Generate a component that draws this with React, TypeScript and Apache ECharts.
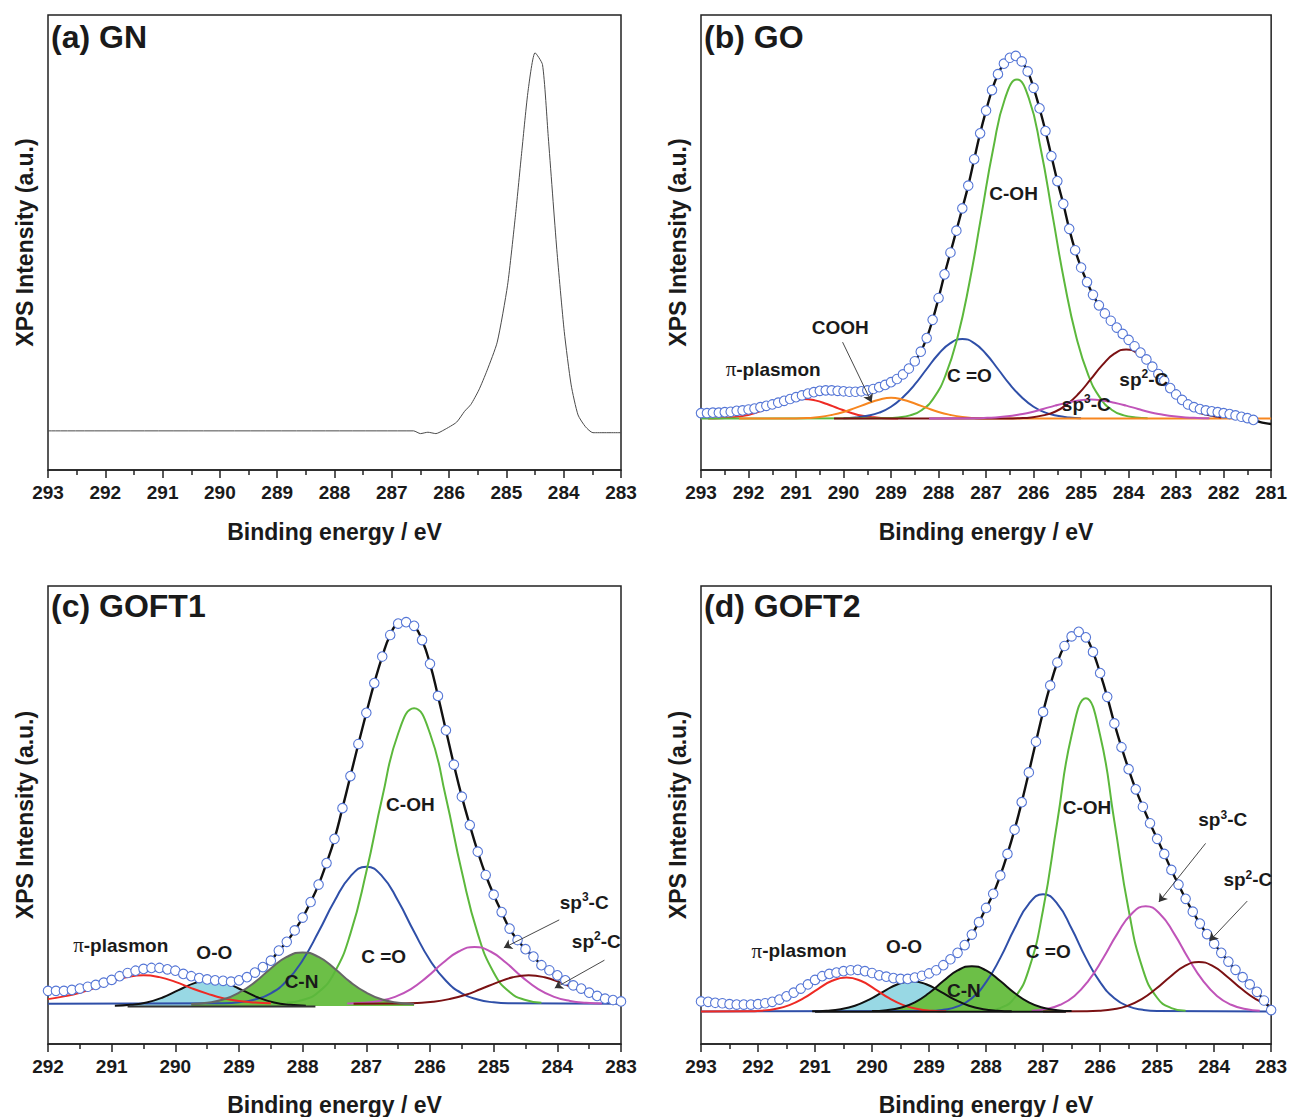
import React, { useEffect, useRef } from "react";
import * as echarts from "echarts";

const FONT = "'Liberation Sans', Arial, Helvetica, sans-serif";
const SERIF = "'Liberation Serif', 'DejaVu Serif', serif";

// ---------- (a) GN ----------
const GN_ENERGY = [293, 286.62, 286.5, 286.37, 286.23, 286.09, 285.87, 285.73, 285.62, 285.48, 285.34, 285.16, 284.98, 284.84, 284.73, 284.62, 284.5, 284.37, 284.27, 284.12, 283.99, 283.87, 283.75, 283.62, 283.49, 283.0];
const GN_INTENSITY = [8.6, 8.6, 8.0, 8.3, 8.0, 8.8, 10.5, 12.9, 14.4, 17.6, 21.8, 28.1, 40.6, 56.2, 70.2, 83.5, 91.7, 89.1, 73.3, 48.4, 30.4, 18.7, 12.1, 9.5, 8.2, 8.2];

// sampling grids
const ENV_STEP = 0.125;
const COMP_STEP = 0.25;

// ---------- (b) GO ----------
const GO_BASE = 11.3;
const GO_ENV_START = 293;
const GO_ENV = [
  12.5, 12.5, 12.6, 12.6, 12.7, 12.8, 13.0, 13.1, 13.3, 13.5, 13.8, 14.1, 14.4, 14.8, 15.2, 15.6,
  16.0, 16.4, 16.8, 17.1, 17.4, 17.5, 17.5, 17.4, 17.3, 17.2, 17.2, 17.3, 17.5, 17.8, 18.2, 18.7,
  19.3, 20.0, 21.0, 22.3, 23.9, 26.0, 29.0, 33.0, 37.8, 43.0, 47.8, 52.6, 57.5, 62.5, 68.3, 74.0,
  79.0, 83.5, 87.0, 89.3, 90.6, 91.0, 89.8, 87.6, 84.0, 79.5, 74.5, 69.0, 63.5, 58.5, 53.0, 48.3,
  44.5, 41.3, 38.5, 36.2, 34.4, 32.8, 31.3, 29.9, 28.6, 27.2, 25.8, 24.3, 22.7, 21.1, 19.6, 18.0,
  16.6, 15.4, 14.4, 13.8, 13.4, 13.1, 12.9, 12.7, 12.5, 12.3, 12.0, 11.7, 11.4, 11.0,
];
const GO_FIT_TAIL_ENERGY = [281.25, 281.125, 281.0];
const GO_FIT_TAIL = [10.6, 10.3, 10.1];
const GO_PLASMON = { x0: 292.85, y: [11.33, 11.4, 11.6, 11.9, 12.6, 13.5, 14.5, 15.3, 15.6, 15.3, 14.5, 13.5, 12.6, 11.9, 11.6, 11.4, 11.33] };
const GO_COOH = { x0: 291.0, y: [11.33, 11.42, 11.65, 12.1, 12.75, 13.65, 14.6, 15.45, 15.9, 15.45, 14.6, 13.65, 12.75, 12.1, 11.65, 11.42, 11.33] };
const GO_CO = { x0: 290.0, y: [11.4, 11.55, 11.9, 12.6, 13.9, 16.0, 18.8, 22.2, 25.5, 27.9, 28.8, 27.9, 25.5, 22.2, 18.8, 16.0, 13.9, 12.6, 11.9, 11.55, 11.4] };
const GO_COH = { x0: 289.1, y: [11.4, 11.55, 12.0, 13.2, 15.85, 20.9, 29.2, 41.2, 55.9, 70.6, 81.7, 85.8, 81.7, 70.6, 55.9, 41.2, 29.2, 20.9, 15.85, 13.2, 12.0, 11.55, 11.4] };
const GO_SP3 = { x0: 287.3, y: [11.35, 11.43, 11.56, 11.8, 12.2, 12.7, 13.4, 14.15, 14.8, 15.3, 15.5, 15.3, 14.8, 14.15, 13.4, 12.7, 12.2, 11.8, 11.56, 11.43, 11.35] };
const GO_SP2 = { x0: 286.55, y: [11.33, 11.39, 11.56, 12.0, 12.8, 14.4, 16.8, 19.9, 23.1, 25.56, 26.5, 25.56, 23.1, 19.9, 16.8, 14.4, 12.8, 12.0, 11.56] };

// ---------- (c) GOFT1 ----------
const C_BASE = 8.8;
const C_FILL_BASE = 8.3;
const C_ENV_START = 292;
const C_ENV = [
  11.6, 11.6, 11.6, 11.8, 12.1, 12.5, 12.9, 13.4, 14.0, 14.8, 15.5, 16.0, 16.4, 16.6, 16.6, 16.3,
  16.0, 15.3, 14.8, 14.4, 14.1, 13.9, 13.8, 13.6, 13.9, 14.6, 15.6, 16.8, 18.2, 20.4, 22.3, 24.8,
  27.6, 31.0, 34.8, 39.5, 44.8, 51.5, 58.5, 65.5, 72.3, 78.8, 84.6, 89.3, 91.8, 92.1, 91.3, 88.2,
  83.0, 76.0, 68.5, 61.0, 54.0, 47.8, 42.0, 36.9, 32.6, 28.8, 25.2, 22.7, 20.7, 19.1, 17.2, 16.1,
  15.0, 13.9, 12.8, 12.1, 11.2, 10.5, 9.9, 9.6, 9.3,
];
const C_PLASMON = { x0: 292.0, y: [9.8, 10.4, 11.2, 12.3, 13.6, 14.6, 15.0, 14.6, 13.57, 12.2, 11.0, 10.0, 9.4, 9.05, 8.9] };
const C_OO = { x0: 290.95, y: [8.36, 8.55, 9.07, 10.15, 11.76, 13.3, 14.0, 13.3, 11.76, 10.15, 9.07, 8.55, 8.36] };
const C_CN = { x0: 289.75, y: [8.72, 9.0, 9.7, 11.2, 13.5, 16.5, 19.0, 20.0, 19.0, 16.5, 13.5, 11.2, 9.7, 9.0, 8.72] };
const C_CO = { x0: 289.25, y: [8.9, 9.1, 9.7, 11.06, 13.8, 18.3, 24.5, 31.2, 36.6, 38.7, 36.6, 31.2, 24.5, 18.3, 13.8, 11.06, 9.7, 9.1, 8.9] };
const C_COH = { x0: 288.25, y: [9.0, 9.6, 11.35, 15.6, 24.1, 37.6, 53.8, 67.8, 73.3, 67.8, 53.8, 37.6, 24.1, 15.6, 11.35, 9.6, 9.0] };
const C_SP3 = { x0: 287.3, y: [8.86, 9.0, 9.4, 10.3, 12.0, 14.6, 17.67, 20.2, 21.2, 20.2, 17.67, 14.6, 12.0, 10.3, 9.4, 9.0, 8.86] };
const C_SP2 = { x0: 286.45, y: [8.86, 8.97, 9.23, 9.8, 10.7, 12.0, 13.4, 14.56, 15.0, 14.56, 13.4, 12.0, 10.7, 9.8, 9.23] };
const C_BASELINE_ENERGY = [290.75, 287.8];
const C_BASELINE = [8.2, 8.2];

// ---------- (d) GOFT2 ----------
const D_BASE = 7.1;
const D_ENV_START = 293;
const D_ENV = [
  9.3, 9.2, 9.0, 8.9, 8.7, 8.6, 8.6, 8.6, 8.7, 8.9, 9.2, 9.7, 10.4, 11.2, 12.1, 13.0,
  14.0, 14.8, 15.3, 15.6, 15.9, 16.1, 16.2, 15.9, 15.5, 15.0, 14.7, 14.4, 14.2, 14.2, 14.5, 14.9,
  15.4, 16.1, 17.2, 18.5, 19.9, 21.6, 23.9, 26.6, 29.7, 32.8, 36.8, 41.5, 46.8, 52.8, 59.3, 66.0,
  72.5, 78.3, 83.3, 86.9, 89.0, 90.0, 88.8, 85.6, 81.0, 75.8, 70.0, 64.8, 60.0, 55.6, 51.8, 48.2,
  44.8, 41.5, 38.0, 34.8, 31.7, 28.9, 26.3, 24.0, 21.9, 19.9, 18.0, 16.2, 14.6, 13.0, 11.4, 9.5,
  7.4,
];
const D_PLASMON = { x0: 292.2, y: [7.15, 7.28, 7.66, 8.5, 10.0, 12.0, 13.8, 14.5, 13.8, 12.0, 10.0, 8.5, 7.66, 7.28, 7.15] };
const D_OO = { x0: 291.05, y: [7.14, 7.26, 7.6, 8.36, 9.7, 11.46, 13.05, 13.7, 13.05, 11.46, 9.7, 8.36, 7.6, 7.26, 7.14] };
const D_CN = { x0: 290.0, y: [7.18, 7.37, 7.92, 9.1, 11.14, 13.74, 16.06, 17.0, 16.06, 13.74, 11.14, 9.1, 7.92, 7.37, 7.18] };
const D_CO = { x0: 289.0, y: [7.2, 7.47, 8.2, 10.0, 13.5, 18.8, 25.2, 30.6, 32.7, 30.6, 25.2, 18.8, 13.5, 10.0, 8.2, 7.47, 7.2] };
const D_COH = { x0: 288.0, y: [7.25, 7.85, 10.1, 16.3, 29.3, 48.6, 67.4, 75.5, 67.4, 48.6, 29.3, 16.3, 10.1, 7.85, 7.25] };
const D_SP3 = { x0: 287.2, y: [7.27, 7.65, 8.57, 10.5, 13.9, 18.67, 24.05, 28.4, 30.1, 28.4, 24.05, 18.67, 13.9, 10.5, 8.57, 7.65, 7.27] };
const D_SP2 = { x0: 286.27, y: [7.14, 7.25, 7.58, 8.33, 9.8, 12.05, 14.7, 17.0, 17.9, 17.0, 14.7, 12.05, 9.8, 8.33, 7.58] };
const D_BASELINE_ENERGY = [291.0, 286.6];
const D_BASELINE = [7.05, 7.05];

// ---------- annotations (data coordinates) ----------
const ANN_B = [
  { e: 286.41, v: 60.7, t: "{b|C-OH}" },
  { e: 287.34, v: 20.7, t: "{b|C =O}" },
  { e: 290.06, v: 31.2, t: "{b|COOH}" },
  { e: 291.47, v: 22.0, t: "{pi|π}{b|-plasmon}" },
  { e: 283.67, v: 19.8, t: "{b|sp}{sup|2}{b|-C}" },
  { e: 284.88, v: 14.3, t: "{b|sp}{sup|3}{b|-C}" },
];
const ARROWS_B = [[290.02, 28.1, 289.41, 14.9]];
const ANN_C = [
  { e: 290.85, v: 21.4, t: "{pi|π}{b|-plasmon}" },
  { e: 289.38, v: 19.9, t: "{b|O-O}" },
  { e: 288.01, v: 13.5, t: "{b|C-N}" },
  { e: 286.72, v: 19.0, t: "{b|C =O}" },
  { e: 286.3, v: 52.2, t: "{b|C-OH}" },
  { e: 283.57, v: 30.8, t: "{b|sp}{sup|3}{b|-C}" },
  { e: 283.38, v: 22.3, t: "{b|sp}{sup|2}{b|-C}" },
];
const ARROWS_C = [
  [283.97, 27.1, 284.84, 21.0],
  [283.26, 18.3, 284.04, 12.2],
];
const ANN_D = [
  { e: 291.27, v: 20.3, t: "{pi|π}{b|-plasmon}" },
  { e: 289.43, v: 21.2, t: "{b|O-O}" },
  { e: 288.38, v: 11.6, t: "{b|C-N}" },
  { e: 286.9, v: 20.1, t: "{b|C =O}" },
  { e: 286.22, v: 51.5, t: "{b|C-OH}" },
  { e: 283.84, v: 48.9, t: "{b|sp}{sup|3}{b|-C}" },
  { e: 283.4, v: 35.8, t: "{b|sp}{sup|2}{b|-C}" },
];
const ARROWS_D = [
  [284.15, 43.8, 284.97, 31.0],
  [283.42, 31.2, 284.08, 22.5],
];

// ---------- colours ----------
const COL = {
  red: "#ee2a24",
  orange: "#f7861f",
  blue: "#2f4fa8",
  green: "#5cb83c",
  magenta: "#c054b9",
  darkred: "#7b1113",
  fit: "#111111",
  circle: "#5576d6",
  ooFill: "#98d8e4",
  cnFill: "#6cbf47",
  axis: "#222222",
  text: "#1a1a1a",
};

function grid(x0: number, step: number, ys: number[]): number[][] {
  return ys.map((y, i) => [Math.round((x0 - i * step) * 1000) / 1000, y]);
}
function pairs(xs: number[], ys: number[]): number[][] {
  return xs.map((x, i) => [x, ys[i]]);
}
function comp(c: { x0: number; y: number[] }, base: number, left?: number, right?: number): number[][] {
  const d = grid(c.x0, COMP_STEP, c.y);
  if (left !== undefined) d.unshift([left, base]);
  if (right !== undefined) d.push([right, base]);
  return d;
}

function line(k: number, data: number[][], color: string, width = 2, extra: any = {}) {
  return {
    type: "line",
    xAxisIndex: k,
    yAxisIndex: k,
    data,
    smooth: 0.5,
    symbol: "none",
    silent: true,
    lineStyle: { color, width },
    ...extra,
  };
}
function area(k: number, data: number[][], stroke: string, fill: string, origin: number) {
  return line(k, data, stroke, 2, { areaStyle: { color: fill, opacity: 1, origin } });
}
function circles(k: number, data: number[][]) {
  return {
    type: "scatter",
    xAxisIndex: k,
    yAxisIndex: k,
    data,
    symbol: "circle",
    symbolSize: 9.5,
    silent: true,
    z: 4,
    itemStyle: { color: "#ffffff", borderColor: COL.circle, borderWidth: 1.1, opacity: 1 },
  };
}

const NOSTROKE = { textBorderWidth: 0, textBorderColor: "transparent", textShadowBlur: 0 };
const RICH = {
  b: { fontFamily: FONT, fontWeight: "bold", fontSize: 19, color: COL.text, lineHeight: 22, ...NOSTROKE },
  sup: { fontFamily: FONT, fontWeight: "bold", fontSize: 12, color: COL.text, verticalAlign: "top", lineHeight: 12, ...NOSTROKE },
  pi: { fontFamily: SERIF, fontSize: 21, color: COL.text, lineHeight: 22, ...NOSTROKE },
};

function annotations(k: number, labels: { e: number; v: number; t: string }[], arrows: number[][]) {
  return {
    type: "scatter",
    xAxisIndex: k,
    yAxisIndex: k,
    silent: true,
    z: 6,
    symbolSize: 1,
    itemStyle: { color: "rgba(255,255,255,0)", opacity: 1 },
    data: labels.map((l) => ({ value: [l.e, l.v], label: { formatter: l.t } })),
    label: { show: true, position: [0, 0], align: "center", verticalAlign: "middle", color: COL.text, opacity: 1, ...NOSTROKE, rich: RICH },
    markLine: arrows.length
      ? {
          silent: true,
          symbol: ["none", "arrow"],
          symbolSize: 8,
          lineStyle: { color: "#333", width: 0.9, type: "solid", opacity: 1 },
          label: { show: false },
          data: arrows.map((a) => [{ coord: [a[0], a[1]] }, { coord: [a[2], a[3]] }]),
        }
      : undefined,
  };
}

function buildOption(): any {
  const grids = [
    { left: 48, top: 15, width: 573, height: 455 },
    { left: 701, top: 15, width: 572, height: 455 },
    { left: 48, top: 586, width: 573, height: 458 },
    { left: 701, top: 586, width: 572, height: 458 },
  ].map((g) => ({ ...g, show: true, borderColor: COL.axis, borderWidth: 1.5, containLabel: false }));

  const ranges = [
    [283, 293],
    [281, 293],
    [283, 292],
    [283, 293],
  ];
  const nameGaps = [50, 50, 49, 49];
  const xAxis = ranges.map((r, k) => ({
    type: "value",
    gridIndex: k,
    inverse: true,
    min: r[0],
    max: r[1],
    interval: 1,
    axisLine: { show: true, lineStyle: { color: COL.axis, width: 1.5 } },
    axisTick: { show: true, length: 8, lineStyle: { color: COL.axis, width: 1.5 } },
    minorTick: { show: true, splitNumber: 2, length: 5, lineStyle: { color: COL.axis, width: 1.5 } },
    splitLine: { show: false },
    axisLabel: { fontFamily: FONT, fontSize: 19, fontWeight: "bold", color: COL.text, margin: 13 },
    name: "Binding energy / eV",
    nameLocation: "middle",
    nameGap: nameGaps[k],
    nameTextStyle: { fontFamily: FONT, fontSize: 23, fontWeight: "bold", color: COL.text },
  }));
  const yAxis = ranges.map((_, k) => ({
    type: "value",
    gridIndex: k,
    min: 0,
    max: 100,
    axisLine: { show: false },
    axisTick: { show: false },
    axisLabel: { show: false },
    splitLine: { show: false },
    name: "XPS Intensity (a.u.)",
    nameLocation: "middle",
    nameGap: 12,
    nameTextStyle: { fontFamily: FONT, fontSize: 23, fontWeight: "bold", color: COL.text },
  }));

  const title = [
    { text: "(a) GN", left: 51, top: 21 },
    { text: "(b) GO", left: 704, top: 21 },
    { text: "(c) GOFT1", left: 51, top: 590 },
    { text: "(d) GOFT2", left: 704, top: 590 },
  ].map((t) => ({ ...t, padding: 0, textStyle: { fontFamily: FONT, fontWeight: "bold", fontSize: 32, color: COL.text } }));

  const goEnv = grid(GO_ENV_START, ENV_STEP, GO_ENV);
  const cEnv = grid(C_ENV_START, ENV_STEP, C_ENV);
  const dEnv = grid(D_ENV_START, ENV_STEP, D_ENV);

  const series: any[] = [
    // (a)
    line(0, pairs(GN_ENERGY, GN_INTENSITY), "#4a4a4a", 1, { smooth: 0.2 }),

    // (b)
    line(1, comp(GO_PLASMON, GO_BASE), COL.red),
    line(1, comp(GO_CO, GO_BASE), COL.blue),
    line(1, comp(GO_COH, GO_BASE, 293), COL.green),
    line(1, comp(GO_COOH, GO_BASE, 292.2, 281), COL.orange),
    line(1, comp(GO_SP2, GO_BASE, 290.2), COL.darkred),
    line(1, comp(GO_SP3, GO_BASE, 288.2), COL.magenta),
    line(1, goEnv.concat(pairs(GO_FIT_TAIL_ENERGY, GO_FIT_TAIL)), COL.fit, 2.4),
    circles(1, goEnv),
    annotations(1, ANN_B, ARROWS_B),

    // (c)
    line(2, comp(C_CO, C_BASE, 292, 283), COL.blue),
    line(2, comp(C_COH, C_BASE), COL.green),
    line(2, comp(C_SP3, C_BASE), COL.magenta),
    line(2, comp(C_SP2, C_BASE, 287.2), COL.darkred),
    area(2, comp(C_OO, C_BASE), "#111", COL.ooFill, C_FILL_BASE),
    line(2, comp(C_PLASMON, C_BASE), COL.red),
    area(2, comp(C_CN, C_BASE), "#666", COL.cnFill, C_FILL_BASE),
    line(2, pairs(C_BASELINE_ENERGY, C_BASELINE), "#333", 2, { smooth: false }),
    line(2, cEnv, COL.fit, 2.4),
    circles(2, cEnv),
    annotations(2, ANN_C, ARROWS_C),

    // (d)
    line(3, comp(D_CO, D_BASE, 293, 283), COL.blue),
    line(3, comp(D_COH, D_BASE), COL.green),
    line(3, comp(D_SP3, D_BASE), COL.magenta),
    line(3, comp(D_SP2, D_BASE, 287.0), COL.darkred),
    area(3, comp(D_OO, D_BASE), "#111", COL.ooFill, D_BASE),
    line(3, comp(D_PLASMON, D_BASE, 293), COL.red),
    area(3, comp(D_CN, D_BASE), "#111", COL.cnFill, D_BASE),
    line(3, pairs(D_BASELINE_ENERGY, D_BASELINE), "#111", 2, { smooth: false }),
    line(3, dEnv, COL.fit, 2.4),
    circles(3, dEnv),
    annotations(3, ANN_D, ARROWS_D),
  ];

  return {
    animation: false,
    backgroundColor: "#ffffff",
    title,
    grid: grids,
    xAxis,
    yAxis,
    series,
  };
}

export default function App() {
  const ref = useRef<HTMLDivElement>(null);
  useEffect(() => {
    if (!ref.current) return;
    const chart = echarts.init(ref.current, null, { renderer: "svg" });
    chart.setOption(buildOption());
    return () => chart.dispose();
  }, []);
  return (
    <div
      ref={ref}
      style={{ position: "fixed", left: 0, top: 0, width: 1290, height: 1117, background: "#fff" }}
    />
  );
}
